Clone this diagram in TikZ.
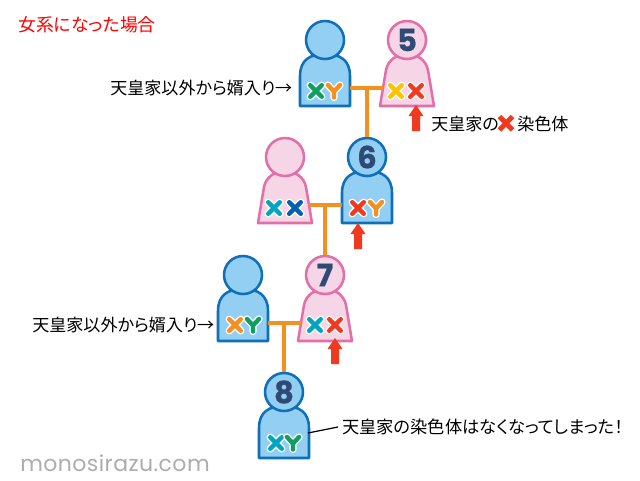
\documentclass[tikz,border=0pt]{standalone}
\usepackage{fontspec}
\setmainfont{Noto Sans CJK JP}[RawFeature=+palt]
\newfontfamily\digitfont{Poppins}[BoldFont=Poppins Bold,BoldFeatures={FakeBold=0.6}]
\newfontfamily\markfont{Poppins}[LetterSpace=2]
\definecolor{maleFill}{HTML}{92CFF2}
\definecolor{maleLine}{HTML}{0F6FB8}
\definecolor{femFill}{HTML}{F6D5E6}
\definecolor{femLine}{HTML}{E46EA8}
\definecolor{wire}{HTML}{F39020}
\definecolor{navy}{HTML}{2F4A75}
\definecolor{cGreen}{HTML}{0FA060}
\definecolor{cOrange}{HTML}{F39020}
\definecolor{cYellow}{HTML}{FDC300}
\definecolor{cRed}{HTML}{F03A20}
\definecolor{cTeal}{HTML}{00A5C0}
\definecolor{cBlue}{HTML}{0060B0}
\tikzset{
  x=0.75pt,y=-0.75pt,
  head/.style={circle,draw,line width=1.9pt,minimum size=28.5pt,inner sep=0pt,font=\digitfont\bfseries\fontsize{23}{23}\selectfont,text=navy},
  malebody/.style={draw=maleLine,fill=maleFill,line width=1.9pt,line join=round},
  fembody/.style={draw=femLine,fill=femFill,line width=1.9pt,line join=round},
  wireline/.style={draw=wire,line width=3pt},
  note/.style={anchor=west,inner sep=0pt,font=\fontsize{12.8}{13}\selectfont},
  chrhalo/.style={draw=white,line width=5.4pt,line cap=round,line join=round},
  chrstroke/.style={line width=3.3pt,line cap=round,line join=round},
  redarrow/.style={fill=cRed,draw=none},
}
\newcommand{\malep}[4]{%
  \begin{scope}[shift={(#2,#3)}]
    \path[malebody] (-25,66) -- (-25,36) .. controls (-25,20) and (-15,14) .. (0,14) .. controls (15,14) and (25,20) .. (25,36) -- (25,66) -- cycle;
    \coordinate (#1l) at (-25,48);
    \coordinate (#1r) at (25,48);
    \node[head,draw=maleLine,fill=maleFill] (#1) at (0,0) {#4};
  \end{scope}}
\newcommand{\femp}[4]{%
  \begin{scope}[shift={(#2,#3)}]
    \path[fembody] (-27,66) -- (-21,30) .. controls (-19,20) and (-10,14) .. (0,14) .. controls (10,14) and (19,20) .. (21,30) -- (27,66) -- cycle;
    \coordinate (#1l) at (-24,48);
    \coordinate (#1r) at (24,48);
    \node[head,draw=femLine,fill=femFill] (#1) at (0,0) {#4};
  \end{scope}}
\newcommand{\chrx}[3]{%
  \begin{scope}[shift={(#1,#2)}]
    \path[chrhalo] (-5.8,-5.8) -- (5.8,5.8) (-5.8,5.8) -- (5.8,-5.8);
    \path[chrstroke,draw=#3] (-5.8,-5.8) -- (5.8,5.8) (-5.8,5.8) -- (5.8,-5.8);
  \end{scope}}
\newcommand{\chry}[3]{%
  \begin{scope}[shift={(#1,#2)}]
    \path[chrhalo] (-6,-6) -- (0,0.5) -- (6,-6) (0,0.5) -- (0,6.5);
    \path[chrstroke,draw=#3] (-6,-6) -- (0,0.5) -- (6,-6) (0,0.5) -- (0,6.5);
  \end{scope}}
\newcommand{\uparr}[2]{%
  \path[redarrow] (#1,#2) -- ++(7.5,11) -- ++(-3.5,0) -- ++(0,15) -- ++(-8,0) -- ++(0,-15) -- ++(-3.5,0) -- cycle;}
\begin{document}
\begin{tikzpicture}
\useasboundingbox[fill=white] (0,0) rectangle (640,480);
\coordinate (j1) at (367,88);
\coordinate (j2) at (325,206);
\coordinate (j3) at (284,325);
\malep{pa}{325}{40}{}
\femp{pb}{407}{40}{5}
\femp{pc}{285}{157}{}
\malep{pd}{367}{157}{6}
\malep{pe}{243}{275}{}
\femp{pf}{325}{275}{7}
\malep{pg}{284}{392}{8}
\draw[wireline] (par) -- (pbl);
\draw[wireline] (j1) -- (pd.north);
\draw[wireline] (pcr) -- (pdl);
\draw[wireline] (j2) -- (pf.north);
\draw[wireline] (per) -- (pfl);
\draw[wireline] (j3) -- (pg.north);
\chrx{316}{91}{cGreen}\chry{334}{91}{cOrange}
\chrx{396}{91}{cYellow}\chrx{416}{91}{cRed}
\chrx{274}{208}{cTeal}\chrx{295}{208}{cBlue}
\chrx{358}{208}{cRed}\chry{376}{208}{cOrange}
\chrx{235}{325}{cOrange}\chry{253}{325}{cGreen}
\chrx{315}{325}{cTeal}\chrx{335}{325}{cRed}
\chrx{276}{443}{cTeal}\chry{293}{443}{cGreen}
\uparr{416}{105}
\uparr{358}{223}
\uparr{335}{338}
\node[note,text=red,font=\fontsize{13.4}{14}\selectfont] (title) at (18,25) {女系になった場合};
\node[note] (n1) at (110,88) {天皇家以外から婿入り→};
\node[note] (n3) at (32,325) {天皇家以外から婿入り→};
\node[note] (n5a) at (431,124) {天皇家の};
\path[draw=cRed,line width=3.7pt] (499.5,116.5) -- (512.5,130) (499.5,130) -- (512.5,116.5);
\node[note] (n5b) at (517,124) {染色体};
\node[note,font=\fontsize{12.95}{13}\selectfont] (n8) at (342,427) {天皇家の染色体はなくなってしまった！};
\coordinate (pgline) at (308,433);
\draw[line width=0.9pt] (pgline) -- (n8.west -| 338,427);
\node[anchor=west,inner sep=0pt,text=black!32,font=\markfont\fontsize{16.5}{16.5}\selectfont] (wm) at (20,463) {monosirazu.com};
\end{tikzpicture}
\end{document}
